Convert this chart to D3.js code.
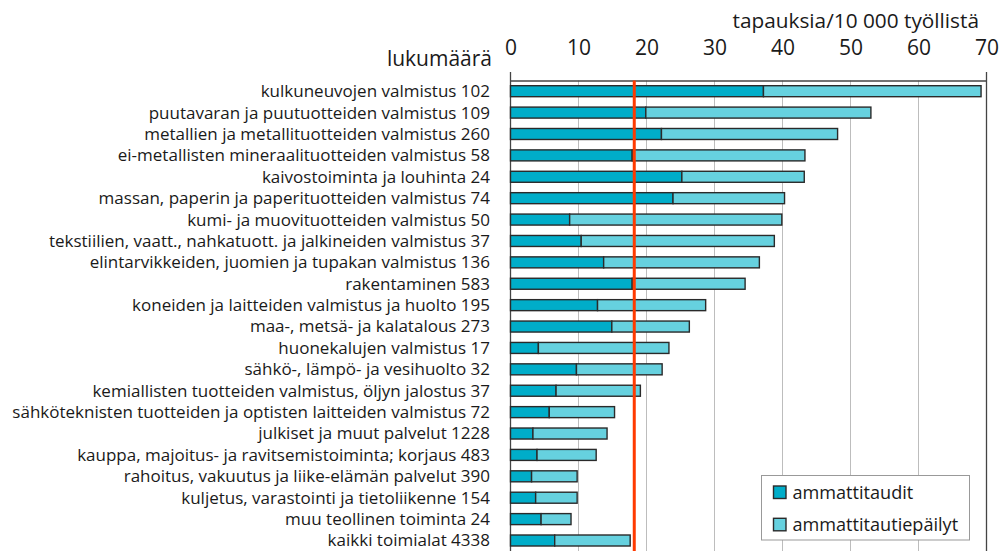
<!DOCTYPE html>
<html><head><meta charset="utf-8">
<script src="https://cdn.jsdelivr.net/npm/d3@7"></script>
<style>
html,body{margin:0;padding:0;background:#fff;}
svg{display:block;font-family:"Open Sans",sans-serif;}
</style></head>
<body>
<svg id="chart" width="1000" height="551"></svg>
<script>
const categories = [
  "kulkuneuvojen valmistus",
  "puutavaran ja puutuotteiden valmistus",
  "metallien ja metallituotteiden valmistus",
  "ei-metallisten mineraalituotteiden valmistus",
  "kaivostoiminta ja louhinta",
  "massan, paperin ja paperituotteiden valmistus",
  "kumi- ja muovituotteiden valmistus",
  "tekstiilien, vaatt., nahkatuott. ja jalkineiden valmistus",
  "elintarvikkeiden, juomien ja tupakan valmistus",
  "rakentaminen",
  "koneiden ja laitteiden valmistus ja huolto",
  "maa-, metsä- ja kalatalous",
  "huonekalujen valmistus",
  "sähkö-, lämpö- ja vesihuolto",
  "kemiallisten tuotteiden valmistus, öljyn jalostus",
  "sähköteknisten tuotteiden ja optisten laitteiden valmistus",
  "julkiset ja muut palvelut",
  "kauppa, majoitus- ja ravitsemistoiminta; korjaus",
  "rahoitus, vakuutus ja liike-elämän palvelut",
  "kuljetus, varastointi ja tietoliikenne",
  "muu teollinen toiminta",
  "kaikki toimialat"
];
const counts = [102,109,260,58,24,74,50,37,136,583,195,273,17,32,37,72,1228,483,390,154,24,4338];
// ammattitaudit (occupational diseases) per 10 000 employed
const ammattitaudit = [37.2,19.9,22.2,17.9,25.2,23.9,8.7,10.4,13.7,17.9,12.8,14.9,4.1,9.7,6.7,5.7,3.3,3.9,3.1,3.7,4.5,6.5];
// ammattitautiepäilyt (suspected) – remaining part of the stacked bar
const epailyt = [32.0,33.1,25.9,25.4,18.0,16.4,31.2,28.4,22.9,16.6,15.9,11.4,19.2,12.6,12.4,9.6,10.9,8.7,6.7,6.1,4.4,11.1];
const averageLine = 18.2;
const xTicks = [0,10,20,30,40,50,60,70];
const seriesNames = ["ammattitaudit","ammattitautiepäilyt"];
const seriesColors = ["#00adc9","#66d1df"];
const xTitle = "tapauksia/10 000 työllistä";
const yTitle = "lukumäärä";

const svg = d3.select("#chart");
const pLeft = 510.5, pRight = 986.5, pTop = 80.5, pBottom = 551.2;

const x = d3.scaleLinear().domain([0,70]).range([pLeft,pRight]);
const y = d3.scaleBand().domain(categories).range([pTop,pBottom]).paddingInner(0.486).paddingOuter(0.243);

// grid lines
svg.append("g").selectAll("line").data(xTicks.filter(d=>d>0 && d<70)).join("line")
  .attr("x1",d=>x(d)).attr("x2",d=>x(d)).attr("y1",pTop).attr("y2",551)
  .attr("stroke","#bdbdbd").attr("stroke-width",1);

// top axis with labels
const axis = svg.append("g").attr("transform",`translate(0,${pTop})`)
  .call(d3.axisTop(x).tickValues(xTicks).tickSize(0).tickPadding(26).tickFormat(d3.format("d")));
axis.select(".domain").attr("stroke","#444").attr("stroke-width",1.3);
axis.selectAll("text").attr("font-size",21).attr("fill","#1a1a1a").attr("font-family","'Open Sans',sans-serif");

// frame lines left and right
svg.append("line").attr("x1",x(0)).attr("x2",x(0)).attr("y1",72).attr("y2",551).attr("stroke","#444").attr("stroke-width",1.3);
svg.append("line").attr("x1",x(70)).attr("x2",x(70)).attr("y1",72).attr("y2",551).attr("stroke","#444").attr("stroke-width",1.3);

// stacked bars
const stackData = categories.map((c,i)=>({cat:c, a:ammattitaudit[i], b:epailyt[i]}));
const stacked = d3.stack().keys(["a","b"])(stackData);
svg.append("g").selectAll("g").data(stacked).join("g")
  .attr("fill",(d,i)=>seriesColors[i])
  .selectAll("rect").data(d=>d).join("rect")
  .attr("x",d=>x(d[0])).attr("width",d=>x(d[1])-x(d[0]))
  .attr("y",d=>y(d.data.cat)).attr("height",y.bandwidth())
  .attr("stroke","#2a2a2a").attr("stroke-width",1.4);

// average line
svg.append("line").attr("x1",x(averageLine)).attr("x2",x(averageLine)).attr("y1",pTop).attr("y2",551)
  .attr("stroke","#ff3a00").attr("stroke-width",3);

// category labels
svg.append("g").selectAll("text").data(categories).join("text")
  .attr("x",490).attr("y",d=>y(d)+y.bandwidth()/2).attr("dy","0.35em")
  .attr("text-anchor","end").attr("font-size",17).attr("fill","#1a1a1a")
  .text((d,i)=>d+" "+counts[i]);

// titles
svg.append("text").attr("x",979).attr("y",28).attr("text-anchor","end").attr("font-size",20.8).attr("fill","#1a1a1a").text(xTitle);
svg.append("text").attr("x",492).attr("y",66).attr("text-anchor","end").attr("font-size",21).attr("fill","#1a1a1a").text(yTitle);

// legend
const lg = svg.append("g");
lg.append("rect").attr("x",761.5).attr("y",475.5).attr("width",208).attr("height",64.5).attr("fill","#fff").attr("stroke","#999").attr("stroke-width",1);
seriesNames.forEach((n,i)=>{
  const yy = 486 + i*32.3;
  lg.append("rect").attr("x",773.5).attr("y",yy).attr("width",12.5).attr("height",12.5).attr("fill",seriesColors[i]).attr("stroke","#2a2a2a").attr("stroke-width",1.4);
  lg.append("text").attr("x",792.5).attr("y",yy+6.3).attr("dy","0.35em").attr("font-size",18.1).attr("fill","#1a1a1a").text(n);
});
</script>
</body></html>
